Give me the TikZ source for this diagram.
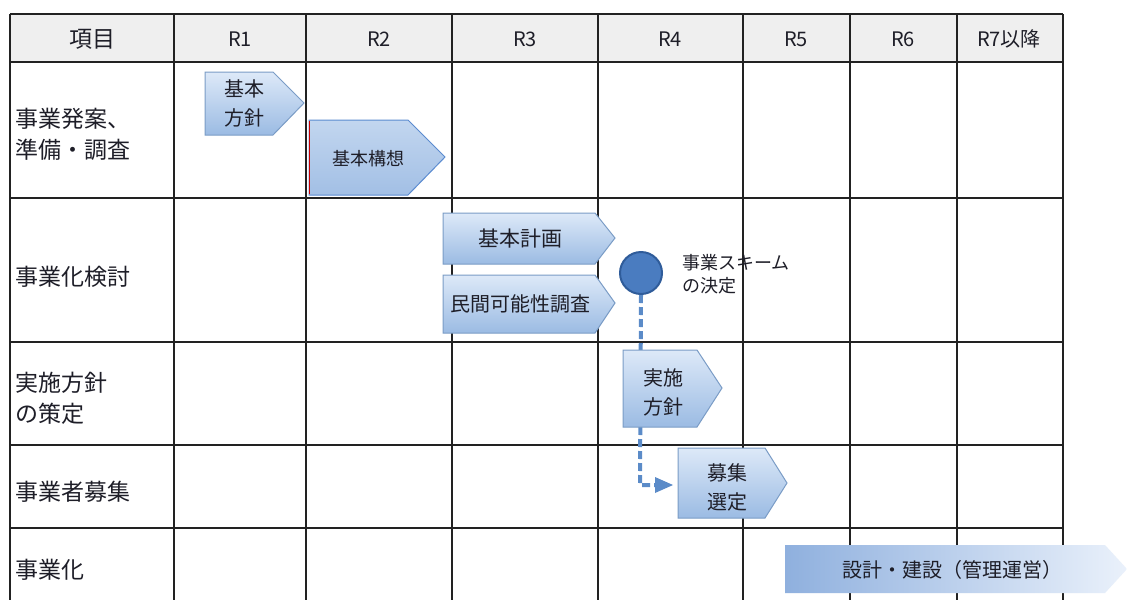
\documentclass[tikz,border=0pt]{standalone}
\usepackage{fontspec}
\setmainfont{Noto Sans CJK JP}
\usetikzlibrary{arrows.meta}
\definecolor{gridc}{HTML}{222222}
\definecolor{hdrfill}{HTML}{EFEFEF}
\definecolor{arrtop}{HTML}{DDE9F8}
\definecolor{arrbot}{HTML}{9BBBE3}
\definecolor{arrline}{HTML}{7A9CC6}
\definecolor{dashc}{HTML}{5B8BC8}
\definecolor{circfill}{HTML}{4A7CC0}
\definecolor{circline}{HTML}{2F5C9A}
\definecolor{txtc}{HTML}{1E1E28}
\definecolor{kstop}{HTML}{C2D6EF}
\definecolor{ksbot}{HTML}{A2BFE5}
\definecolor{ksline}{HTML}{5B8BD0}
\definecolor{skleft}{HTML}{8FB0DE}
\definecolor{skright}{HTML}{EAF1FB}
\tikzset{
  gridline/.style={draw=gridc, line width=1.6pt},
  rowlab/.style={font=\fontsize{23}{31}\selectfont, anchor=west, align=left, inner sep=0pt, text=txtc},
  hdr/.style={font=\fontsize{20}{22}\selectfont, inner sep=0pt, text=txtc},
  pent/.style={top color=arrtop, bottom color=arrbot, draw=arrline, line width=1pt},
  atext/.style={font=\fontsize{20}{29}\selectfont, inner sep=0pt, align=center, text=txtc},
  conn/.style={draw=dashc, line width=4pt, dash pattern=on 8pt off 4pt},
}
\begin{document}
\begin{tikzpicture}[x=1pt,y=-1pt]
\useasboundingbox (0,0) rectangle (1127,600);
\fill[white] (0,0) rectangle (1127,600);
% header fill
\fill[hdrfill] (10,14) rectangle (1063,62);
% grid
\foreach \x in {10,174,306,452,598,743,850,957,1063}
  \draw[gridline] (\x,14) -- (\x,600);
\foreach \y in {14,62,198,342,445,528}
  \draw[gridline] (10,\y) -- (1063,\y);
% header texts
\node[hdr, font=\fontsize{23}{24}\selectfont] (h0) at (92,39) {項目};
\node[hdr] (h1) at (240,39) {R1};
\node[hdr] (h2) at (379,39) {R2};
\node[hdr] (h3) at (525,39) {R3};
\node[hdr] (h4) at (670,39) {R4};
\node[hdr] (h5) at (796,39) {R5};
\node[hdr] (h6) at (903,39) {R6};
\node[hdr] (h7) at (1009,39) {R7以降};
% row labels
\node[rowlab] (r1) at (15,134) {事業発案、\\準備・調査};
\node[rowlab] (r2) at (15,277) {事業化検討};
\node[rowlab] (r3) at (15,398) {実施方針\\の策定};
\node[rowlab] (r4) at (15,492) {事業者募集};
\node[rowlab] (r5) at (15,570) {事業化};
% dashed connector (behind the arrows)
\node[circle, minimum size=42pt, inner sep=0pt, fill=circfill, draw=circline, line width=2pt] (circ) at (641,273) {};
\coordinate (corner) at (640,485);
\coordinate (endpt) at (673,485);
\draw[conn] (circ.south) -- (corner) -- (655,485);
\fill[dashc] (655,477) -- (endpt) -- (655,493) -- cycle;
% arrows
\path[pent] (205,72) -- (273,72) -- (304,103) -- (273,135) -- (205,135) -- cycle;
\node[atext] (kihonhoushin) at (244,103) {基本\\方針};
\path[top color=kstop, bottom color=ksbot, draw=ksline, line width=1pt] (309,120) -- (408,120) -- (445,157) -- (408,195) -- (309,195) -- cycle;
\draw[red!80!black, line width=1pt] (309,121) -- (309,194);
\node[atext, font=\fontsize{18}{20}\selectfont] (kousou) at (368,159) {基本構想};
\path[pent] (443,213) -- (595,213) -- (615,238) -- (595,264) -- (443,264) -- cycle;
\node[atext, font=\fontsize{21}{24}\selectfont] (keikaku) at (520,239) {基本計画};
\path[pent] (443,275) -- (595,275) -- (615,303) -- (595,333) -- (443,333) -- cycle;
\node[atext] (minkan) at (520,304) {民間可能性調査};
\path[pent] (623,350) -- (697,350) -- (722,388) -- (697,427) -- (623,427) -- cycle;
\node[atext] (jisshi) at (663,392) {実施\\方針};
\path[pent] (678,448) -- (765,448) -- (787,483) -- (765,518) -- (678,518) -- cycle;
\node[atext] (boshuu) at (727,487) {募集\\選定};
\path[left color=skleft, right color=skright] (785,545) -- (1105,545) -- (1127,569) -- (1105,593) -- (785,593) -- cycle;
\node[atext] (sekkei) at (952,570) {設計・建設（管理運営）};
% scheme label
\node[atext, anchor=north west, align=left, font=\fontsize{18}{23}\selectfont] (scheme) at (682,254) {事業スキーム\\の決定};
\end{tikzpicture}
\end{document}
